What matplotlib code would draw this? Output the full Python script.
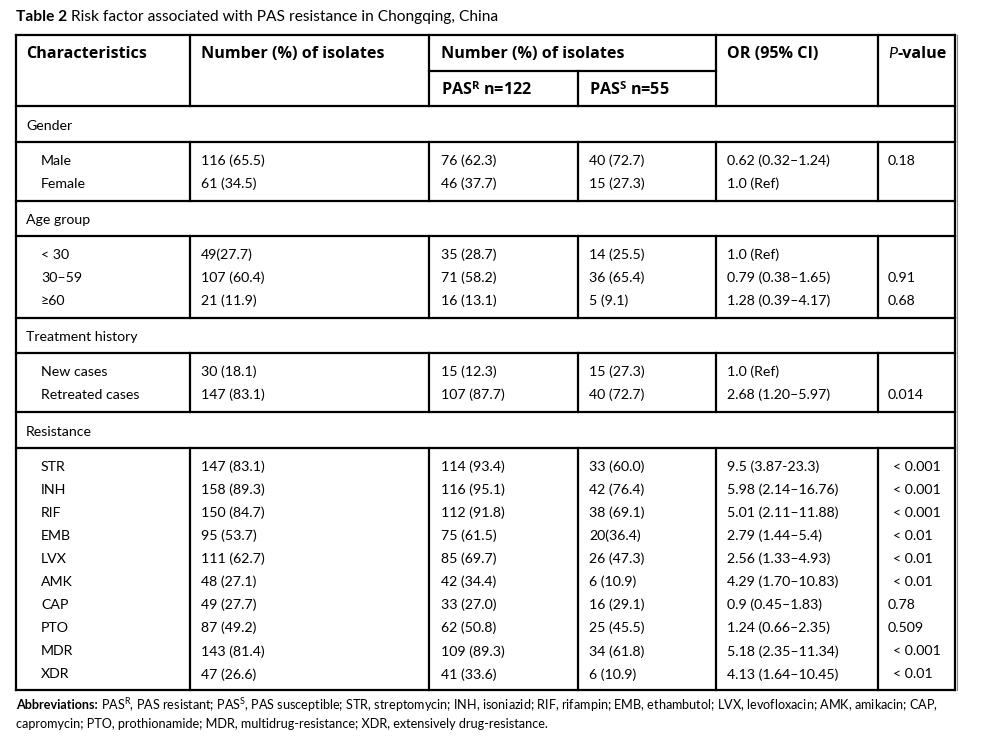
import matplotlib
matplotlib.use("Agg")
import matplotlib.pyplot as plt

plt.rcParams['font.family'] = ['Lato', 'DejaVu Sans']
plt.rcParams['mathtext.fontset'] = 'custom'
plt.rcParams['mathtext.rm'] = 'Lato'
plt.rcParams['mathtext.bf'] = 'Open Sans:bold'
plt.rcParams['mathtext.it'] = 'Lato:italic'

title_bold = "Table 2"
title_rest = "Risk factor associated with PAS resistance in Chongqing, China"

headers = ["Characteristics", "Number (%) of isolates", "Number (%) of isolates",
           "OR (95% CI)", "-value"]
subheaders = [r"PAS$^{\mathbf{R}}$ n=122", r"PAS$^{\mathbf{S}}$ n=55"]

groups = ["Gender", "Age group", "Treatment history", "Resistance"]
items = [
    ["Male", "Female"],
    ["< 30", "30–59", "≥60"],
    ["New cases", "Retreated cases"],
    ["STR", "INH", "RIF", "EMB", "LVX", "AMK", "CAP", "PTO", "MDR", "XDR"],
]
total = [
    ["116 (65.5)", "61 (34.5)"],
    ["49(27.7)", "107 (60.4)", "21 (11.9)"],
    ["30 (18.1)", "147 (83.1)"],
    ["147 (83.1)", "158 (89.3)", "150 (84.7)", "95 (53.7)", "111 (62.7)", "48 (27.1)",
     "49 (27.7)", "87 (49.2)", "143 (81.4)", "47 (26.6)"],
]
pasr = [
    ["76 (62.3)", "46 (37.7)"],
    ["35 (28.7)", "71 (58.2)", "16 (13.1)"],
    ["15 (12.3)", "107 (87.7)"],
    ["114 (93.4)", "116 (95.1)", "112 (91.8)", "75 (61.5)", "85 (69.7)", "42 (34.4)",
     "33 (27.0)", "62 (50.8)", "109 (89.3)", "41 (33.6)"],
]
pass_ = [
    ["40 (72.7)", "15 (27.3)"],
    ["14 (25.5)", "36 (65.4)", "5 (9.1)"],
    ["15 (27.3)", "40 (72.7)"],
    ["33 (60.0)", "42 (76.4)", "38 (69.1)", "20(36.4)", "26 (47.3)", "6 (10.9)",
     "16 (29.1)", "25 (45.5)", "34 (61.8)", "6 (10.9)"],
]
odds = [
    ["0.62 (0.32–1.24)", "1.0 (Ref)"],
    ["1.0 (Ref)", "0.79 (0.38–1.65)", "1.28 (0.39–4.17)"],
    ["1.0 (Ref)", "2.68 (1.20–5.97)"],
    ["9.5 (3.87-23.3)", "5.98 (2.14–16.76)", "5.01 (2.11–11.88)", "2.79 (1.44–5.4)",
     "2.56 (1.33–4.93)", "4.29 (1.70–10.83)", "0.9 (0.45–1.83)", "1.24 (0.66–2.35)",
     "5.18 (2.35–11.34)", "4.13 (1.64–10.45)"],
]
pvals = [
    ["0.18", ""],
    ["", "0.91", "0.68"],
    ["", "0.014"],
    ["< 0.001", "< 0.001", "< 0.001", "< 0.01", "< 0.01", "< 0.01", "0.78", "0.509",
     "< 0.001", "< 0.01"],
]

foot_bold = "Abbreviations:"
foot1 = (r"PAS$^{\mathrm{R}}$, PAS resistant; PAS$^{\mathrm{S}}$, PAS susceptible; "
         "STR, streptomycin; INH, isoniazid; RIF, rifampin; EMB, ethambutol; LVX, levofloxacin; AMK, amikacin; CAP,")
foot2 = "capromycin; PTO, prothionamide; MDR, multidrug-resistance; XDR, extensively drug-resistance."

W, H = 984, 737
fig = plt.figure(figsize=(W / 100, H / 100), dpi=100)
ax = fig.add_axes([0, 0, 1, 1])
ax.set_xlim(0, W)
ax.set_ylim(H, 0)
ax.axis('off')

LW = 1.6
L, R = 16, 955
vx = [190, 429, 716, 878]
vsub = 578
top, hsub, hbot = 35, 71, 106
bounds = [(106, 142, 201), (201, 236, 318), (318, 353, 412), (412, 448, 690)]

def hline(y, x0=L, x1=R):
    ax.plot([x0, x1], [y, y], color='black', lw=LW, solid_capstyle='projecting')

def vline(x, y0, y1):
    ax.plot([x, x], [y0, y1], color='black', lw=LW, solid_capstyle='projecting')

# Outer frame
hline(top)
hline(hbot)
vline(L, top, 690)
vline(R, top, 690)
ax.plot([R + 1.5, R + 1.5], [top, 690], color='#888888', lw=0.8)
hline(hsub, 429, 716)
for x in vx:
    vline(x, top, hbot)
vline(vsub, hsub, hbot)

for (a, b, c) in bounds:
    hline(b)
    hline(c)
    for x in vx + [vsub]:
        vline(x, b, c)

# Title
fs_t = 11.2
t = ax.text(16, 17, title_bold, fontsize=fs_t, fontweight='bold', va='center', ha='left')
fig.canvas.draw()
bb = t.get_window_extent()
ax.text(16 + bb.width + 4, 17, title_rest, fontsize=fs_t, va='center', ha='left')

# Headers
HF = 'Open Sans'
fs_h = 11.6
hy = 54
ax.text(26, hy, headers[0], fontsize=fs_h, family=HF, fontweight='bold', va='center')
ax.text(201, hy, headers[1], fontsize=fs_h, family=HF, fontweight='bold', va='center')
ax.text(441, hy, headers[2], fontsize=fs_h, family=HF, fontweight='bold', va='center')
ax.text(727, hy, headers[3], fontsize=fs_h, family=HF, fontweight='bold', va='center')
pt = ax.text(888, hy, "P", fontsize=fs_h, fontstyle='italic', va='center')
fig.canvas.draw()
pb = pt.get_window_extent()
ax.text(888 + pb.width, hy, headers[4], fontsize=fs_h, family=HF, fontweight='bold', va='center')
ax.text(441, 90, subheaders[0], fontsize=fs_h, family=HF, fontweight='bold', va='center')
ax.text(589, 90, subheaders[1], fontsize=fs_h, family=HF, fontweight='bold', va='center')

# Body
fs_b = 10.2
step = 23.1
for gi, (a, b, c) in enumerate(bounds):
    ax.text(26, (a + b) / 2 + 1.5, groups[gi], fontsize=fs_b, va='center')
    n = len(items[gi])
    y0 = b + 18.5
    for k in range(n):
        y = y0 + k * step
        ax.text(41, y, items[gi][k], fontsize=fs_b, va='center')
        ax.text(201, y, total[gi][k], fontsize=fs_b, va='center')
        ax.text(441, y, pasr[gi][k], fontsize=fs_b, va='center')
        ax.text(589, y, pass_[gi][k], fontsize=fs_b, va='center')
        ax.text(727, y, odds[gi][k], fontsize=fs_b, va='center')
        pv = pvals[gi][k]
        ax.text(893 if pv.startswith('<') else 888, y, pv, fontsize=fs_b, va='center')

# Footer
fs_f = 9.1
fb = ax.text(16, 705, foot_bold, fontsize=fs_f, fontweight='bold', va='center')
fig.canvas.draw()
fbb = fb.get_window_extent()
ax.text(16 + fbb.width + 3, 705, foot1, fontsize=fs_f, va='center')
ax.text(16, 724, foot2, fontsize=fs_f, va='center')

fig.savefig("out.png", dpi=100)
